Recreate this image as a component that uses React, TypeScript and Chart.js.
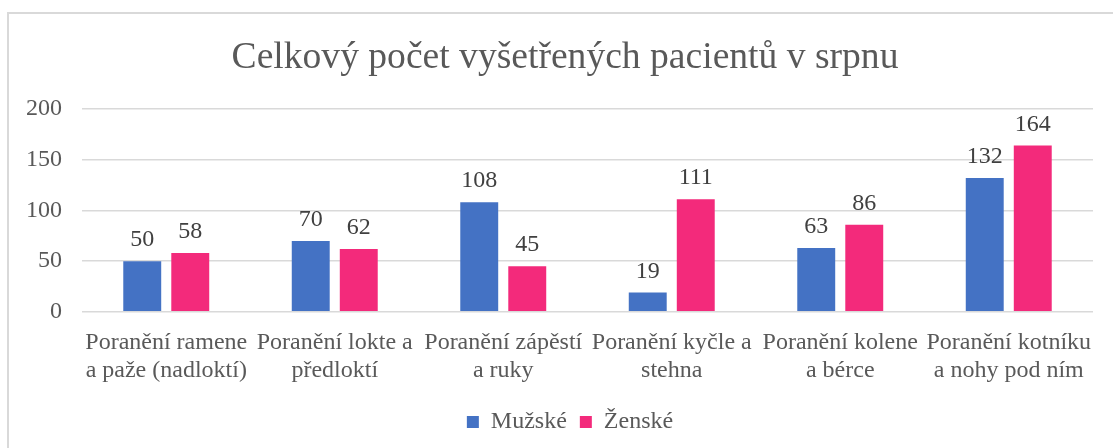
import React, { useEffect, useRef } from "react";
import { Chart, registerables } from "chart.js";

Chart.register(...registerables);

const categories: string[][] = [
  ["Poranění ramene", "a paže (nadloktí)"],
  ["Poranění lokte a", "předloktí"],
  ["Poranění zápěstí", "a ruky"],
  ["Poranění kyčle a", "stehna"],
  ["Poranění kolene", "a bérce"],
  ["Poranění kotníku", "a nohy pod ním"],
];
const muzske: number[] = [50, 70, 108, 19, 63, 132];
const zenske: number[] = [58, 62, 45, 111, 86, 164];
const seriesNames = ["Mužské", "Ženské"];
const title = "Celkový počet vyšetřených pacientů v srpnu";

const FONT = "'Liberation Serif', 'Times New Roman', serif";
const TEXT = "#595959";

const dataLabelPlugin = {
  id: "dataLabels",
  afterLayout(chart: any) {
    // center the title and legend across the whole canvas width
    const tb = chart.titleBlock;
    if (tb) {
      tb.left = 0;
      tb.right = chart.width;
      tb.width = chart.width;
    }
    const lg = chart.legend;
    if (lg) {
      lg.left = 10;
      lg.right = chart.width;
      lg.width = chart.width - 10;
    }
  },
  afterDatasetsDraw(chart: any) {
    const ctx = chart.ctx;
    ctx.save();
    ctx.font = `24px ${FONT}`;
    ctx.fillStyle = "#404040";
    ctx.textAlign = "center";
    ctx.textBaseline = "alphabetic";
    chart.data.datasets.forEach((ds: any, i: number) => {
      const meta = chart.getDatasetMeta(i);
      meta.data.forEach((el: any, j: number) => {
        ctx.fillText(String(ds.data[j]), el.x, el.y - 15);
      });
    });
    ctx.restore();
  },
};

export default function App() {
  const ref = useRef<HTMLCanvasElement | null>(null);
  useEffect(() => {
    if (!ref.current) return;
    const chart = new Chart(ref.current, {
      type: "bar",
      data: {
        labels: categories,
        datasets: [
          {
            label: seriesNames[0],
            data: muzske,
            backgroundColor: "#4472C4",
            categoryPercentage: 0.57,
            barPercentage: 0.79,
          },
          {
            label: seriesNames[1],
            data: zenske,
            backgroundColor: "#F32A7B",
            categoryPercentage: 0.57,
            barPercentage: 0.79,
          },
        ],
      },
      options: {
        animation: false,
        responsive: false,
        maintainAspectRatio: false,
        layout: { padding: { left: -3, right: 28, top: 0, bottom: 16 } },
        plugins: {
          title: {
            display: true,
            text: title,
            color: TEXT,
            font: { family: FONT, size: 37.6, weight: "normal" },
            padding: { top: 22, bottom: 28 },
          },
          legend: {
            position: "bottom",
            labels: {
              color: TEXT,
              font: { family: FONT, size: 24 },
              boxWidth: 12,
              boxHeight: 12,
              padding: 13,
            },
          },
          tooltip: { enabled: false },
        },
        scales: {
          x: {
            grid: { display: false },
            border: { display: false },
            afterFit: (scale: any) => {
              scale.height += 3;
            },
            ticks: {
              color: TEXT,
              font: { family: FONT, size: 24, lineHeight: 1.17 },
              maxRotation: 0,
              autoSkip: false,
              padding: 9,
            },
          },
          y: {
            min: 0,
            max: 200,
            ticks: {
              stepSize: 50,
              color: TEXT,
              font: { family: FONT, size: 24 },
              padding: 20,
            },
            grid: { color: "#d9d9d9", lineWidth: 1.5, drawTicks: false },
            border: { display: false },
          },
        },
      },
      plugins: [dataLabelPlugin],
    });
    return () => chart.destroy();
  }, []);

  return (
    <div style={{ position: "fixed", inset: 0, overflow: "hidden", background: "#fff" }}>
      <div
        style={{
          position: "absolute",
          left: 7,
          top: 12,
          width: 1114,
          height: 460,
          border: "2px solid #d9d9d9",
          boxSizing: "content-box",
        }}
      >
        <canvas ref={ref} width={1112} height={446} style={{ display: "block" }} />
      </div>
    </div>
  );
}
